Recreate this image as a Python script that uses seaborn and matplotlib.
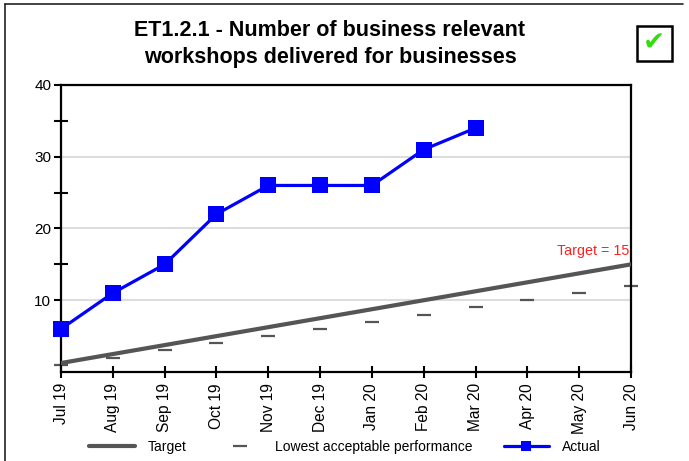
import matplotlib
matplotlib.use("Agg")
import matplotlib.pyplot as plt
from matplotlib.patches import Rectangle
from matplotlib.lines import Line2D
import seaborn as sns
import pandas as pd

months = ["Jul 19", "Aug 19", "Sep 19", "Oct 19", "Nov 19", "Dec 19",
          "Jan 20", "Feb 20", "Mar 20", "Apr 20", "May 20", "Jun 20"]
target = [1.25, 2.5, 3.75, 5, 6.25, 7.5, 8.75, 10, 11.25, 12.5, 13.75, 15]
lowest = [1, 2, 3, 4, 5, 6, 7, 8, 9, 10, 11, 12]
actual = [6, 11, 15, 22, 26, 26, 26, 31, 34]

sns.set_style("white")
plt.rcParams['font.family'] = ['Liberation Sans', 'DejaVu Sans']
plt.rcParams['text.color'] = 'black'
plt.rcParams['xtick.color'] = 'black'
plt.rcParams['ytick.color'] = 'black'

fig = plt.figure(figsize=(6.89, 4.61), dpi=100)
ax = fig.add_axes([61/689, 1-372/461, (631-61)/689, (372-85)/461])

idx = list(range(len(months)))
df_t = pd.DataFrame({"x": idx, "y": target})
df_l = pd.DataFrame({"x": idx, "y": lowest})
df_a = pd.DataFrame({"x": idx[:len(actual)], "y": actual})

for yv in [10, 20, 30]:
    ax.axhline(yv, color="#dddddd", lw=1.5, zorder=0)

sns.lineplot(data=df_t, x="x", y="y", ax=ax, color="#555555", lw=3, zorder=3)
sns.lineplot(data=df_l, x="x", y="y", ax=ax, color="#555555", lw=0, marker="_",
             markersize=10, markeredgewidth=1.6, markeredgecolor="#555555",
             zorder=2, clip_on=False)
sns.lineplot(data=df_a, x="x", y="y", ax=ax, color="#0000ff", lw=2.3, marker="s",
             markersize=11, markeredgewidth=0, markeredgecolor="#0000ff",
             zorder=4, clip_on=False)

ax.set_xlim(0, len(months) - 1)
ax.set_ylim(0, 40)
ax.set_xlabel("")
ax.set_ylabel("")
ax.set_xticks(idx)
ax.set_xticklabels(months, rotation=90, fontsize=11.2)
ax.set_yticks([10, 20, 30, 40])
ax.set_yticklabels(["10", "20", "30", "40"], fontsize=11)
ax.set_yticks([5, 15, 25, 35], minor=True)
ax.tick_params(axis="y", which="major", direction="out", length=5, width=1.5, pad=2, left=True)
ax.tick_params(axis="y", which="minor", direction="inout", length=10, width=1.5, left=True)
ax.tick_params(axis="x", which="major", direction="inout", length=8, width=1.5, pad=4, bottom=True)
for s in ax.spines.values():
    s.set_visible(True)
    s.set_color("black")
    s.set_linewidth(1.6)

ax.text(len(months) - 1 - 0.03, 15.9, "Target = 15", color="#ff2020", fontsize=10.3,
        ha="right", va="bottom")

fig.text(330/689, 1-30/461, "ET1.2.1 - Number of business relevant", ha="center",
         va="center", fontsize=15.5, fontweight="bold", color="black")
fig.text(330/689, 1-57/461, "workshops delivered for businesses", ha="center",
         va="center", fontsize=15.5, fontweight="bold", color="black")

# frame lines
fig.add_artist(Line2D([5/689, 5/689], [0, 1-4/461], transform=fig.transFigure, color="#222222", lw=1.2))
fig.add_artist(Line2D([5/689, 683/689], [1-4/461, 1-4/461], transform=fig.transFigure, color="#222222", lw=1.2))

# check box
fig.add_artist(Rectangle((637/689, 1-61/461), 35/689, 35/461, transform=fig.transFigure,
                         fill=True, facecolor="white", edgecolor="black", lw=1.8))
fig.text(654.5/689, 1-44/461, "\u2714", ha="center", va="center", fontsize=19,
         color="#33dd11", family="DejaVu Sans")

handles = [
    Line2D([], [], color="#555555", lw=3),
    Line2D([], [], color="#555555", lw=0, marker="_", markersize=10, markeredgewidth=1.6),
    Line2D([], [], color="#0000ff", lw=2.3, marker="s", markersize=7, markeredgewidth=0),
]
fig.legend(handles, ["Target", "Lowest acceptable performance", "Actual"],
           loc="center", bbox_to_anchor=(345/689, 1-447/461), ncol=3, frameon=False,
           fontsize=10, handlelength=3.25, columnspacing=2.2, handletextpad=0.95)

fig.savefig("out.png", dpi=100)
